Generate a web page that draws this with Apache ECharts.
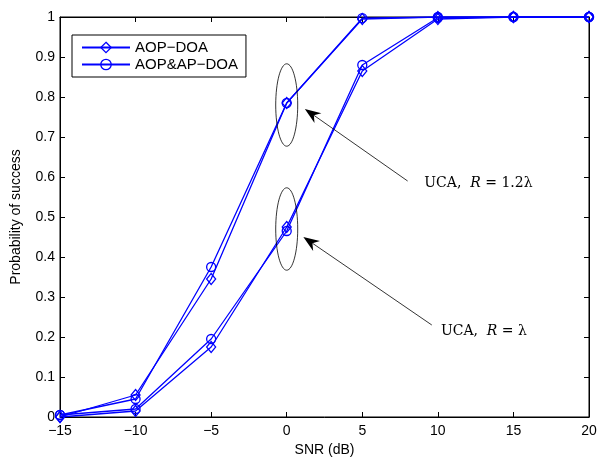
<!DOCTYPE html>
<html><head><meta charset="utf-8">
<script src="https://cdn.jsdelivr.net/npm/echarts@6/dist/echarts.min.js"></script>
<style>html,body{margin:0;padding:0;background:#fff}#c{width:598px;height:459px}</style>
</head><body><div id="c"></div>
<script>
const snr = [-15, -10, -5, 0, 5, 10, 15, 20];
const aopDoaR12 = [0.0, 0.055, 0.345, 0.785, 0.995, 1, 1, 1];
const aopApDoaR12 = [0.005, 0.045, 0.375, 0.785, 0.997, 1, 1, 1];
const aopDoaR1 = [0.0, 0.015, 0.175, 0.475, 0.865, 0.995, 1, 1];
const aopApDoaR1 = [0.005, 0.02, 0.195, 0.465, 0.88, 0.998, 1, 1];
const legendNames = ['AOP\u2212DOA', 'AOP&AP\u2212DOA'];
const annotations = [
  {center: [0, 0.78], label: 'UCA,  ', italic: 'R', rest: ' = 1.2\u03bb', textAt: [9.1, 0.585], tail: [8, 0.59], head: [1.2, 0.77]},
  {center: [0, 0.47], label: 'UCA,  ', italic: 'R', rest: ' = \u03bb', textAt: [10.2, 0.215], tail: [9.6, 0.23], head: [1.1, 0.45]}
];

const blue = '#0000ff';
function mk(name, vals, sym) {
  return {
    type: 'line', name: name,
    data: snr.map((x, i) => [x, vals[i]]),
    symbol: sym, symbolSize: sym === 'diamond' ? [9, 11] : 9,
    showSymbol: true,
    lineStyle: {color: blue, width: 1.3},
    itemStyle: {color: 'rgba(0,0,0,0)', borderColor: blue, borderWidth: 1.3},
    emphasis: {disabled: true},
    animation: false, z: 3
  };
}
const chart = echarts.init(document.getElementById('c'));
const font = 'Liberation Sans, Arial, sans-serif';
const baseAxis = {
  axisLine: {show: true, onZero: false, lineStyle: {color: '#000'}},
  axisTick: {show: true, inside: true, length: 5, lineStyle: {color: '#000'}},
  splitLine: {show: false}
};
chart.setOption({
  animation: false,
  grid: {left: 60, right: 9, top: 17, bottom: 42, outerBoundsMode: 'none', containLabel: false,
    show: true, borderColor: '#000', borderWidth: 1},
  legend: {
    data: legendNames.map(n => ({name: n, itemStyle: {color: 'rgba(0,0,0,0)', borderColor: blue, borderWidth: 1.3}})),
    left: 72, top: 35, orient: 'vertical',
    itemWidth: 48, itemHeight: 13, itemGap: 2,
    padding: [5, 8, 5, 9],
    borderColor: '#000', borderWidth: 1, backgroundColor: '#fff',
    textStyle: {fontFamily: font, fontSize: 15, color: '#000'}
  },
  xAxis: [Object.assign({
    type: 'value', min: -15, max: 20, interval: 5,
    axisLabel: {color: '#000', fontFamily: font, fontSize: 14, margin: 7,
      formatter: v => String(v).replace('-', '\u2212')},
    name: 'SNR (dB)', nameLocation: 'middle', nameGap: 24,
    nameTextStyle: {color: '#000', fontFamily: font, fontSize: 14}
  }, baseAxis), Object.assign({
    type: 'value', min: -15, max: 20, interval: 5, position: 'top',
    axisLabel: {show: false}
  }, baseAxis)],
  yAxis: [Object.assign({
    type: 'value', min: 0, max: 1, interval: 0.1,
    axisLabel: {color: '#000', fontFamily: font, fontSize: 14, margin: 5,
      formatter: v => String(Math.round(v * 10) / 10)},
    name: 'Probability of success', nameLocation: 'middle', nameGap: 37,
    nameTextStyle: {color: '#000', fontFamily: font, fontSize: 14}
  }, baseAxis), Object.assign({
    type: 'value', min: 0, max: 1, interval: 0.1, position: 'right',
    axisLabel: {show: false}
  }, baseAxis)],
  series: [
    mk(legendNames[0], aopDoaR12, 'diamond'),
    mk(legendNames[1], aopApDoaR12, 'circle'),
    mk(legendNames[0], aopDoaR1, 'diamond'),
    mk(legendNames[1], aopApDoaR1, 'circle')
  ]
});

const px = p => chart.convertToPixel({xAxisIndex: 0, yAxisIndex: 0}, p);
const graphics = [];
annotations.forEach(a => {
  const c = px(a.center);
  const top = px([a.center[0], a.center[1] + 0.103]);
  graphics.push({type: 'ellipse', shape: {cx: c[0], cy: c[1], rx: 11, ry: c[1] - top[1]},
    style: {fill: 'none', stroke: '#000', lineWidth: 0.8}, z: 10});
  const t = px(a.tail), h = px(a.head);
  const dx = h[0] - t[0], dy = h[1] - t[1], L = Math.hypot(dx, dy);
  const ux = dx / L, uy = dy / L, nx = -uy, ny = ux;
  const hl = 16, hw = 6, notch = 11;
  graphics.push({type: 'line', shape: {x1: t[0], y1: t[1], x2: h[0] - ux * notch, y2: h[1] - uy * notch},
    style: {stroke: '#000', lineWidth: 0.8}, z: 10});
  graphics.push({type: 'polygon', shape: {points: [
    [h[0], h[1]],
    [h[0] - ux * hl + nx * hw, h[1] - uy * hl + ny * hw],
    [h[0] - ux * notch, h[1] - uy * notch],
    [h[0] - ux * hl - nx * hw, h[1] - uy * hl - ny * hw]
  ]}, style: {fill: '#000'}, z: 10});
  const tp = px(a.textAt);
  graphics.push({type: 'text', x: tp[0], y: tp[1], z: 10, style: {
    text: '{n|' + a.label + '}{i|' + a.italic + '}{n|' + a.rest + '}',
    verticalAlign: 'middle',
    rich: {
      n: {fontFamily: 'DejaVu Serif, serif', fontSize: 14, fill: '#000'},
      i: {fontFamily: 'DejaVu Serif, serif', fontSize: 14, fontStyle: 'italic', fill: '#000'}
    }
  }});
});
chart.setOption({graphic: graphics});
</script></body></html>
